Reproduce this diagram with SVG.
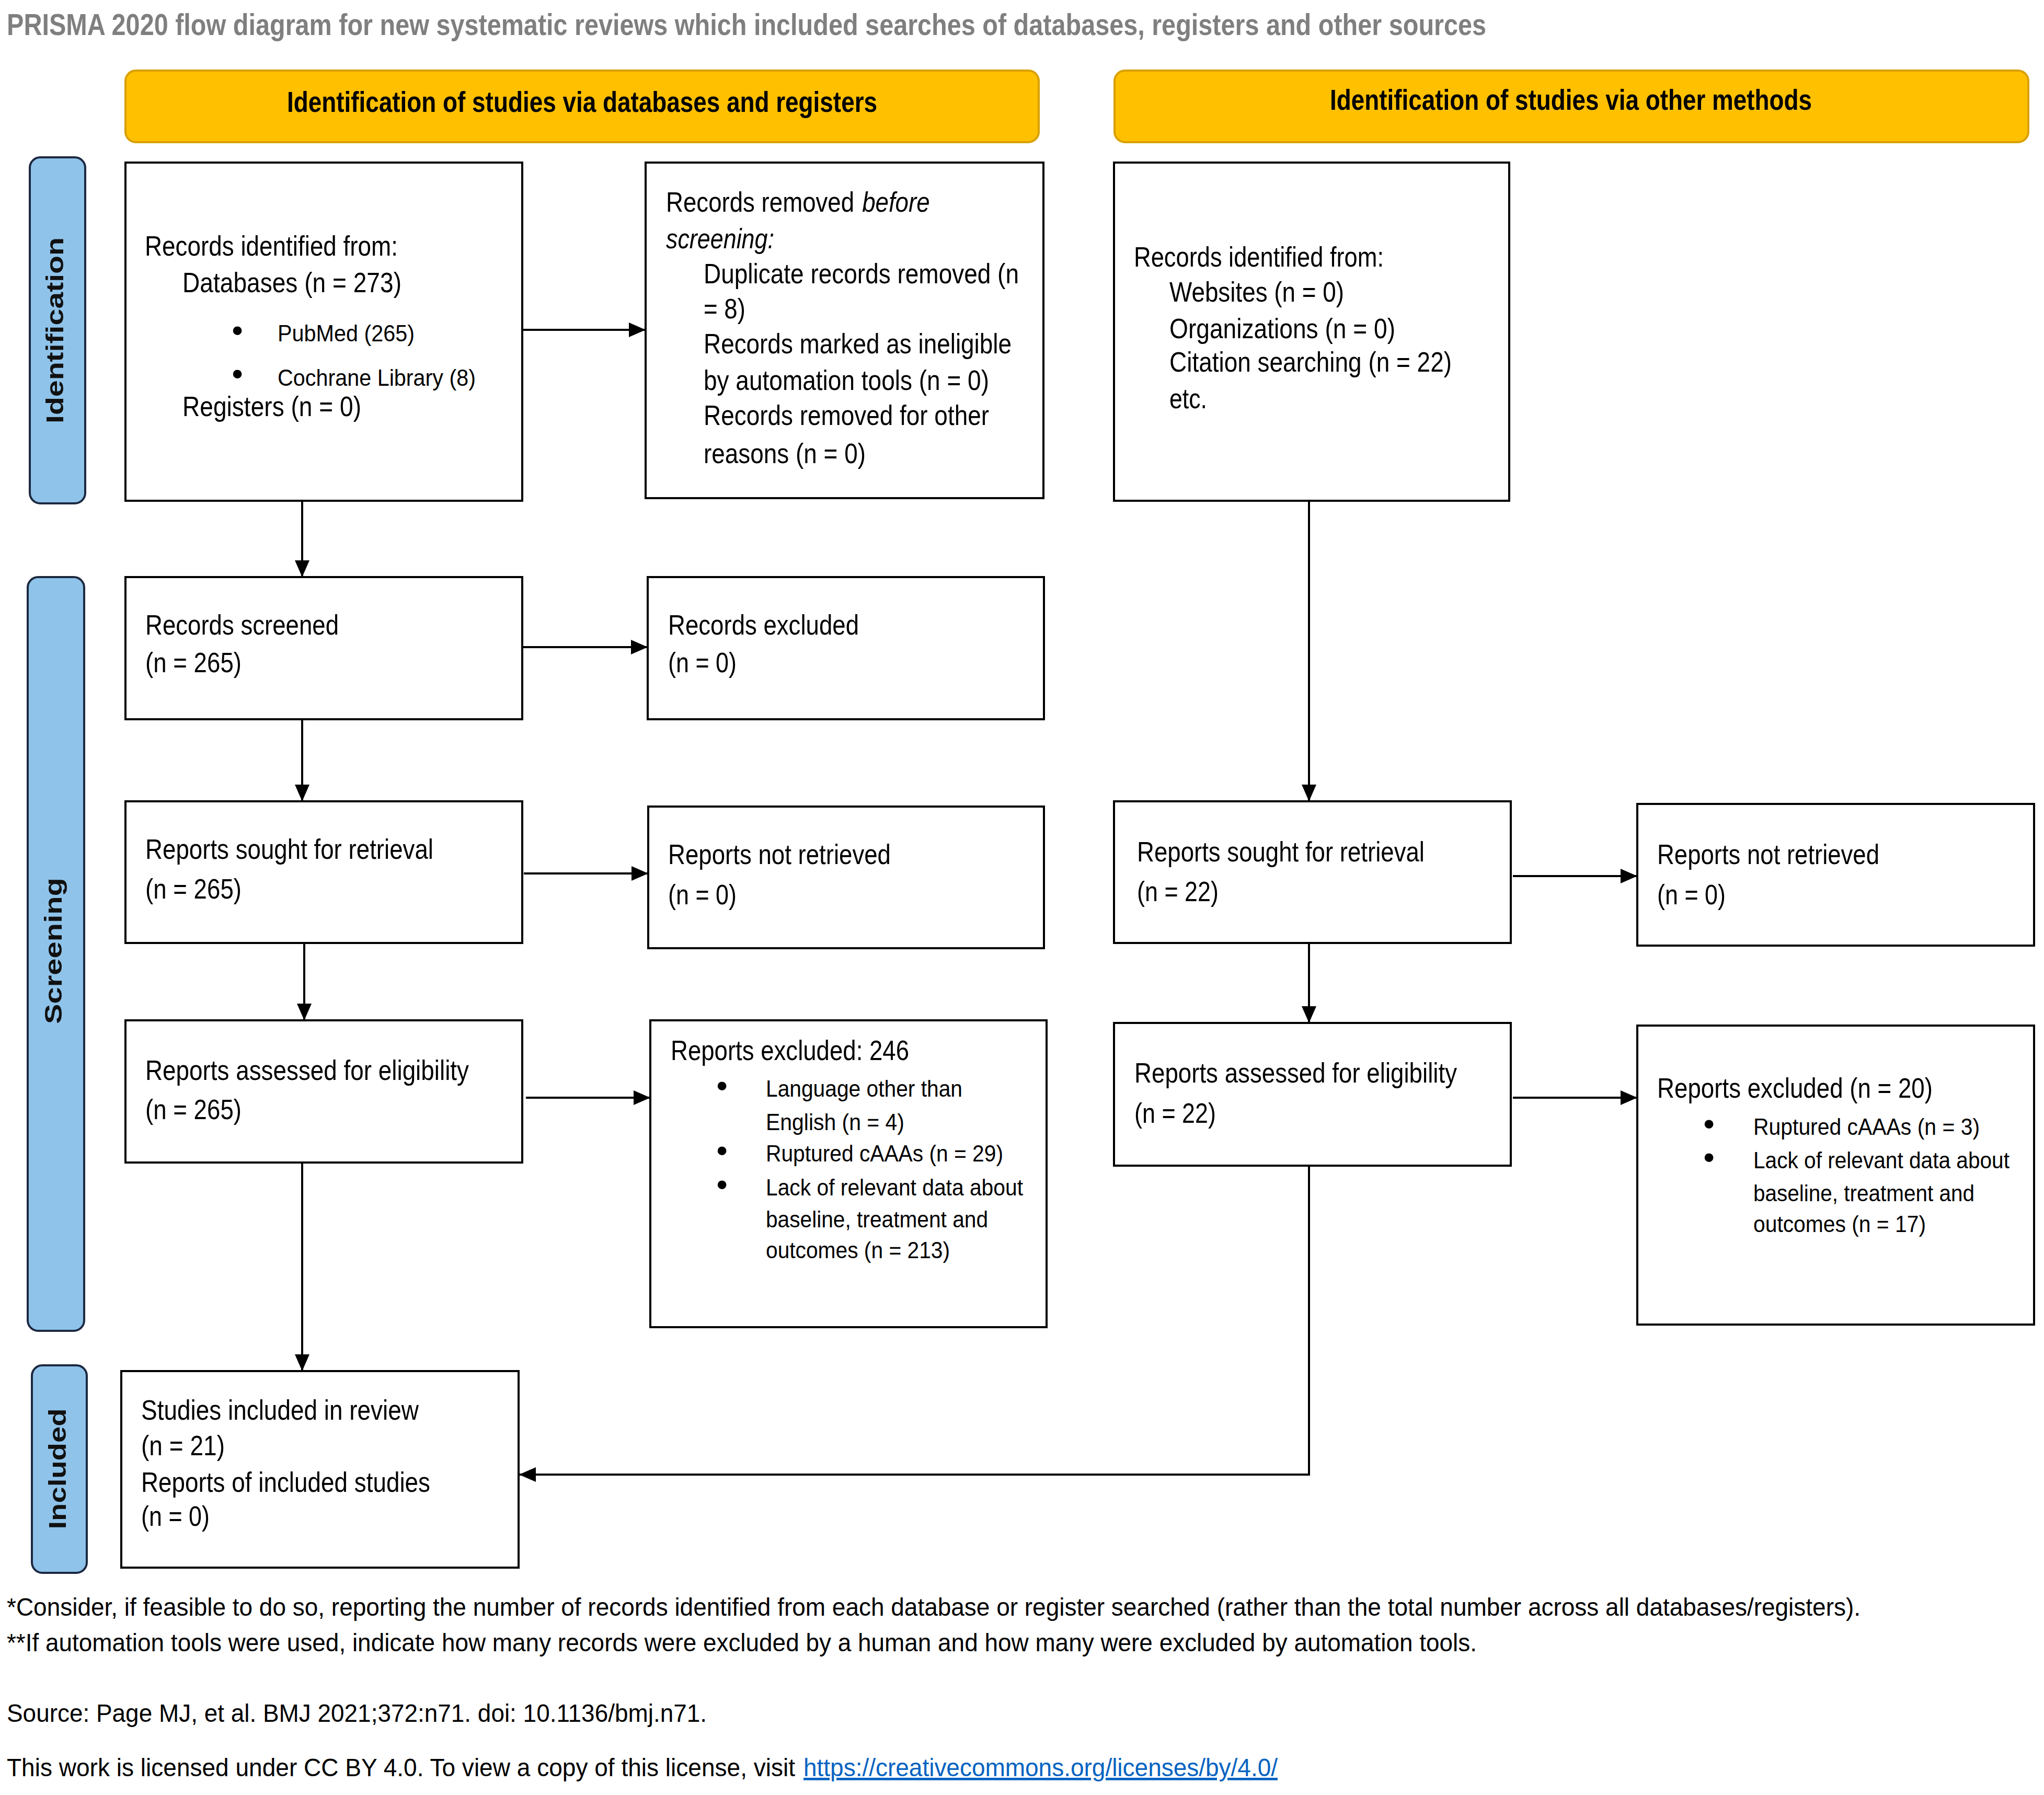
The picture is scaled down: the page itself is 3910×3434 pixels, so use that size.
<svg xmlns="http://www.w3.org/2000/svg" width="3910" height="3434" viewBox="0 0 3910 3434">
<style>
text{font-family:"Liberation Sans",Arial,sans-serif;fill:#000}
.t{font-size:54px}
.s{font-size:45px}
.f{font-size:48px}
.bul{font-size:62px;text-anchor:middle}
.box{fill:#fff;stroke:#000;stroke-width:4}
.hdr{fill:#FFC000;stroke:#D9A000;stroke-width:4}
.hdrt{font-size:56px;font-weight:bold}
.side{fill:#8FC3EA;stroke:#1C2940;stroke-width:4}
.sidet{font-size:46px;font-weight:bold;text-anchor:middle;fill:#111}
.title{font-size:58px;font-weight:bold;fill:#7F7F7F}
.con{fill:none;stroke:#000;stroke-width:4}
.link{fill:#0563C1;text-decoration:underline}
</style>
<defs>
<marker id="ah" markerUnits="userSpaceOnUse" markerWidth="32" markerHeight="28" refX="32" refY="14" orient="auto">
<path d="M0,0 L32,14 L0,28 z" fill="#000"/>
</marker>
</defs>
<rect width="3910" height="3434" fill="#fff"/>
<text class="title" x="13" y="67" textLength="2830" lengthAdjust="spacingAndGlyphs">PRISMA 2020 flow diagram for new systematic reviews which included searches of databases, registers and other sources</text>

<g id="header-databases">
<rect class="hdr" x="240" y="135" width="1747" height="137" rx="20"/>
<text class="hdrt" x="549" y="214" textLength="1129" lengthAdjust="spacingAndGlyphs">Identification of studies via databases and registers</text>
</g>
<g id="header-other">
<rect class="hdr" x="2132" y="135" width="1748" height="137" rx="20"/>
<text class="hdrt" x="2544" y="210" textLength="922" lengthAdjust="spacingAndGlyphs">Identification of studies via other methods</text>
</g>

<g id="side-identification">
<rect class="side" x="57" y="301" width="106" height="662" rx="20"/>
<text class="sidet" transform="translate(121,632) rotate(-90)" textLength="356" lengthAdjust="spacingAndGlyphs">Identification</text>
</g>
<g id="side-screening">
<rect class="side" x="53" y="1104" width="108" height="1442" rx="20"/>
<text class="sidet" transform="translate(118,1819) rotate(-90)" textLength="280" lengthAdjust="spacingAndGlyphs">Screening</text>
</g>
<g id="side-included">
<rect class="side" x="61" y="2612" width="105" height="397" rx="20"/>
<text class="sidet" transform="translate(126,2810) rotate(-90)" textLength="231" lengthAdjust="spacingAndGlyphs">Included</text>
</g>

<g id="records-identified-db">
<rect class="box" x="240" y="311" width="759" height="647"/>
<text class="t" x="277" y="489" textLength="484" lengthAdjust="spacingAndGlyphs">Records identified from:</text>
<text class="t" x="349" y="559" textLength="419" lengthAdjust="spacingAndGlyphs">Databases (n = 273)</text>
<text class="bul" x="454" y="653">•</text>
<text class="s" x="531" y="653" textLength="262" lengthAdjust="spacingAndGlyphs">PubMed (265)</text>
<text class="bul" x="454" y="736">•</text>
<text class="s" x="531" y="738" textLength="379" lengthAdjust="spacingAndGlyphs">Cochrane Library (8)</text>
<text class="t" x="349" y="796" textLength="342" lengthAdjust="spacingAndGlyphs">Registers (n = 0)</text>
</g>

<g id="records-removed">
<rect class="box" x="1235" y="311" width="761" height="642"/>
<g transform="translate(1274,405) scale(0.845,1)">
<text class="t" x="0" y="0">Records removed</text>
<text class="t" x="444" y="0" font-style="italic">before</text>
</g>
<text class="t" x="1274" y="475" font-style="italic" textLength="207" lengthAdjust="spacingAndGlyphs">screening:</text>
<text class="t" x="1346" y="542" textLength="603" lengthAdjust="spacingAndGlyphs">Duplicate records removed (n</text>
<text class="t" x="1346" y="609" textLength="80" lengthAdjust="spacingAndGlyphs">= 8)</text>
<text class="t" x="1346" y="676" textLength="589" lengthAdjust="spacingAndGlyphs">Records marked as ineligible</text>
<text class="t" x="1346" y="746" textLength="546" lengthAdjust="spacingAndGlyphs">by automation tools (n = 0)</text>
<text class="t" x="1346" y="813" textLength="546" lengthAdjust="spacingAndGlyphs">Records removed for other</text>
<text class="t" x="1346" y="886" textLength="310" lengthAdjust="spacingAndGlyphs">reasons (n = 0)</text>
</g>

<g id="records-identified-other">
<rect class="box" x="2131" y="311" width="756" height="647"/>
<text class="t" x="2169" y="510" textLength="478" lengthAdjust="spacingAndGlyphs">Records identified from:</text>
<text class="t" x="2237" y="577" textLength="334" lengthAdjust="spacingAndGlyphs">Websites (n = 0)</text>
<text class="t" x="2237" y="647" textLength="432" lengthAdjust="spacingAndGlyphs">Organizations (n = 0)</text>
<text class="t" x="2237" y="711" textLength="540" lengthAdjust="spacingAndGlyphs">Citation searching (n = 22)</text>
<text class="t" x="2237" y="781" textLength="72" lengthAdjust="spacingAndGlyphs">etc.</text>
</g>

<g id="records-screened">
<rect class="box" x="240" y="1104" width="759" height="272"/>
<text class="t" x="278" y="1214" textLength="370" lengthAdjust="spacingAndGlyphs">Records screened</text>
<text class="t" x="278" y="1286" textLength="184" lengthAdjust="spacingAndGlyphs">(n = 265)</text>
</g>
<g id="records-excluded">
<rect class="box" x="1239" y="1104" width="758" height="272"/>
<text class="t" x="1278" y="1214" textLength="365" lengthAdjust="spacingAndGlyphs">Records excluded</text>
<text class="t" x="1278" y="1286" textLength="131" lengthAdjust="spacingAndGlyphs">(n = 0)</text>
</g>
<g id="reports-sought-db">
<rect class="box" x="240" y="1533" width="759" height="271"/>
<text class="t" x="278" y="1643" textLength="551" lengthAdjust="spacingAndGlyphs">Reports sought for retrieval</text>
<text class="t" x="278" y="1719" textLength="184" lengthAdjust="spacingAndGlyphs">(n = 265)</text>
</g>
<g id="reports-not-retrieved-db">
<rect class="box" x="1240" y="1543" width="757" height="271"/>
<text class="t" x="1278" y="1653" textLength="426" lengthAdjust="spacingAndGlyphs">Reports not retrieved</text>
<text class="t" x="1278" y="1730" textLength="131" lengthAdjust="spacingAndGlyphs">(n = 0)</text>
</g>
<g id="reports-assessed-db">
<rect class="box" x="240" y="1952" width="759" height="272"/>
<text class="t" x="278" y="2066" textLength="619" lengthAdjust="spacingAndGlyphs">Reports assessed for eligibility</text>
<text class="t" x="278" y="2141" textLength="184" lengthAdjust="spacingAndGlyphs">(n = 265)</text>
</g>
<g id="reports-excluded-db">
<rect class="box" x="1244" y="1952" width="758" height="587"/>
<text class="t" x="1283" y="2028" textLength="456" lengthAdjust="spacingAndGlyphs">Reports excluded: 246</text>
<text class="bul" x="1381" y="2098">•</text>
<text class="s" x="1465" y="2098" textLength="376" lengthAdjust="spacingAndGlyphs">Language other than</text>
<text class="s" x="1465" y="2162" textLength="265" lengthAdjust="spacingAndGlyphs">English (n = 4)</text>
<text class="bul" x="1381" y="2222">•</text>
<text class="s" x="1465" y="2222" textLength="454" lengthAdjust="spacingAndGlyphs">Ruptured cAAAs (n = 29)</text>
<text class="bul" x="1381" y="2287">•</text>
<text class="s" x="1465" y="2287" textLength="492" lengthAdjust="spacingAndGlyphs">Lack of relevant data about</text>
<text class="s" x="1465" y="2348" textLength="425" lengthAdjust="spacingAndGlyphs">baseline, treatment and</text>
<text class="s" x="1465" y="2407" textLength="352" lengthAdjust="spacingAndGlyphs">outcomes (n = 213)</text>
</g>

<g id="reports-sought-other">
<rect class="box" x="2131" y="1533" width="759" height="271"/>
<text class="t" x="2175" y="1648" textLength="550" lengthAdjust="spacingAndGlyphs">Reports sought for retrieval</text>
<text class="t" x="2175" y="1724" textLength="156" lengthAdjust="spacingAndGlyphs">(n = 22)</text>
</g>
<g id="reports-not-retrieved-other">
<rect class="box" x="3132" y="1538" width="759" height="271"/>
<text class="t" x="3170" y="1653" textLength="425" lengthAdjust="spacingAndGlyphs">Reports not retrieved</text>
<text class="t" x="3170" y="1730" textLength="131" lengthAdjust="spacingAndGlyphs">(n = 0)</text>
</g>
<g id="reports-assessed-other">
<rect class="box" x="2131" y="1957" width="759" height="273"/>
<text class="t" x="2170" y="2071" textLength="617" lengthAdjust="spacingAndGlyphs">Reports assessed for eligibility</text>
<text class="t" x="2170" y="2148" textLength="156" lengthAdjust="spacingAndGlyphs">(n = 22)</text>
</g>
<g id="reports-excluded-other">
<rect class="box" x="3132" y="1962" width="759" height="572"/>
<text class="t" x="3170" y="2100" textLength="527" lengthAdjust="spacingAndGlyphs">Reports excluded (n = 20)</text>
<text class="bul" x="3269" y="2171">•</text>
<text class="s" x="3354" y="2171" textLength="433" lengthAdjust="spacingAndGlyphs">Ruptured cAAAs (n = 3)</text>
<text class="bul" x="3269" y="2235">•</text>
<text class="s" x="3354" y="2235" textLength="490" lengthAdjust="spacingAndGlyphs">Lack of relevant data about</text>
<text class="s" x="3354" y="2298" textLength="423" lengthAdjust="spacingAndGlyphs">baseline, treatment and</text>
<text class="s" x="3354" y="2357" textLength="330" lengthAdjust="spacingAndGlyphs">outcomes (n = 17)</text>
</g>

<g id="studies-included">
<rect class="box" x="232" y="2623" width="760" height="376"/>
<text class="t" x="270" y="2716" textLength="531" lengthAdjust="spacingAndGlyphs">Studies included in review</text>
<text class="t" x="270" y="2784" textLength="160" lengthAdjust="spacingAndGlyphs">(n = 21)</text>
<text class="t" x="270" y="2854" textLength="553" lengthAdjust="spacingAndGlyphs">Reports of included studies</text>
<text class="t" x="270" y="2919" textLength="131" lengthAdjust="spacingAndGlyphs">(n = 0)</text>
</g>

<g id="connectors">
<line class="con" x1="1001" y1="631" x2="1235" y2="631" marker-end="url(#ah)"/>
<line class="con" x1="578" y1="958" x2="578" y2="1104" marker-end="url(#ah)"/>
<line class="con" x1="999" y1="1238" x2="1239" y2="1238" marker-end="url(#ah)"/>
<line class="con" x1="578" y1="1376" x2="578" y2="1533" marker-end="url(#ah)"/>
<line class="con" x1="1002" y1="1671" x2="1240" y2="1671" marker-end="url(#ah)"/>
<line class="con" x1="582" y1="1804" x2="582" y2="1952" marker-end="url(#ah)"/>
<line class="con" x1="1006" y1="2100" x2="1244" y2="2100" marker-end="url(#ah)"/>
<line class="con" x1="578" y1="2224" x2="578" y2="2623" marker-end="url(#ah)"/>
<line class="con" x1="2504" y1="958" x2="2504" y2="1533" marker-end="url(#ah)"/>
<line class="con" x1="2894" y1="1676" x2="3132" y2="1676" marker-end="url(#ah)"/>
<line class="con" x1="2504" y1="1804" x2="2504" y2="1957" marker-end="url(#ah)"/>
<line class="con" x1="2894" y1="2100" x2="3132" y2="2100" marker-end="url(#ah)"/>
<polyline class="con" points="2504,2230 2504,2821 993,2821" marker-end="url(#ah)"/>
</g>

<g id="footnotes">
<text class="f" x="13" y="3091" textLength="3546" lengthAdjust="spacingAndGlyphs">*Consider, if feasible to do so, reporting the number of records identified from each database or register searched (rather than the total number across all databases/registers).</text>
<text class="f" x="13" y="3159" textLength="2812" lengthAdjust="spacingAndGlyphs">**If automation tools were used, indicate how many records were excluded by a human and how many were excluded by automation tools.</text>
<text class="f" x="13" y="3294" textLength="1339" lengthAdjust="spacingAndGlyphs">Source: Page MJ, et al. BMJ 2021;372:n71. doi: 10.1136/bmj.n71.</text>
<text class="f" x="13" y="3398" textLength="1508" lengthAdjust="spacingAndGlyphs">This work is licensed under CC BY 4.0. To view a copy of this license, visit</text>
<text class="f link" x="1537" y="3398" textLength="907" lengthAdjust="spacingAndGlyphs">https://creativecommons.org/licenses/by/4.0/</text>
</g>
</svg>
